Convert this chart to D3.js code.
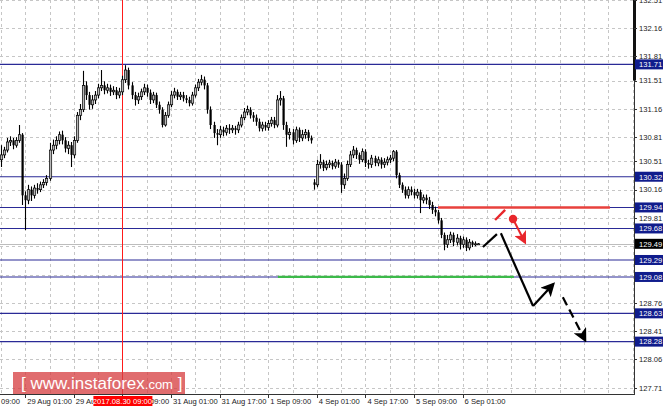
<!DOCTYPE html>
<html><head><meta charset="utf-8">
<script src="https://cdn.jsdelivr.net/npm/d3@7"></script>
<style>html,body{margin:0;padding:0;background:#fff;}svg{display:block;}</style>
</head><body>
<script>
// ---------- DATA ----------
const opens = [130.53,130.59,130.65,130.75,130.77,130.71,130.77,130.84,130.09,130.03,130.16,130.09,130.18,130.16,130.22,130.25,130.30,130.65,130.71,130.77,130.84,130.77,130.67,130.71,130.59,130.77,131.08,131.15,131.45,131.33,131.21,131.27,131.33,131.42,131.45,131.39,131.42,131.37,131.39,131.33,131.37,131.52,131.64,131.45,131.33,131.27,131.31,131.37,131.42,131.36,131.27,131.33,131.21,131.15,130.96,131.08,131.21,131.33,131.37,131.31,131.33,131.29,131.27,131.23,131.33,131.42,131.49,131.52,131.45,131.15,130.96,130.86,130.84,130.90,130.87,130.92,130.90,130.92,130.90,130.96,131.05,131.12,131.15,131.08,131.05,131.00,130.92,130.96,130.93,130.98,131.02,130.96,131.27,131.29,130.96,130.84,130.87,130.77,130.90,130.80,130.84,130.87,130.80,130.25,130.22,130.47,130.50,130.43,130.47,130.49,130.45,130.50,130.47,130.22,130.30,130.47,130.59,130.65,130.59,130.53,130.63,130.49,130.47,130.55,130.49,130.53,130.47,130.50,130.53,130.55,130.63,130.34,130.22,130.16,130.09,130.16,130.13,130.09,130.13,130.03,130.06,130.03,129.97,129.91,129.88,129.78,129.60,129.48,129.54,129.60,129.51,129.56,129.48,129.54,129.44,129.51,129.48,129.49];
const highs = [130.71,130.69,130.80,130.82,130.80,130.81,130.96,130.86,130.14,130.22,130.20,130.22,130.24,130.26,130.29,130.34,130.74,130.78,130.82,130.88,130.89,130.81,130.76,130.75,130.82,131.12,131.22,131.63,131.50,131.37,131.33,131.38,131.47,131.64,131.50,131.47,131.46,131.44,131.43,131.42,131.57,131.70,131.67,131.49,131.37,131.36,131.41,131.47,131.46,131.40,131.37,131.36,131.25,131.18,131.12,131.25,131.38,131.42,131.40,131.37,131.37,131.33,131.31,131.37,131.46,131.53,131.58,131.56,131.48,131.19,131.00,130.91,130.95,130.94,130.96,130.97,130.96,130.95,131.00,131.09,131.17,131.20,131.18,131.12,131.09,131.04,131.00,131.00,131.02,131.06,131.06,131.33,131.38,131.32,131.00,130.92,130.91,130.94,130.93,130.90,130.91,130.90,130.83,130.29,130.53,130.60,130.53,130.52,130.53,130.52,130.54,130.53,130.50,130.36,130.52,130.64,130.70,130.68,130.62,130.67,130.66,130.53,130.59,130.58,130.57,130.56,130.55,130.57,130.59,130.65,130.65,130.37,130.25,130.20,130.20,130.20,130.17,130.17,130.16,130.10,130.10,130.07,130.01,129.95,129.91,129.81,129.63,129.60,129.64,129.63,129.61,129.59,129.58,129.57,129.55,129.53,129.52,129.50];
const lows  = [130.44,130.55,130.62,130.70,130.66,130.68,130.74,129.97,129.66,129.98,130.02,130.05,130.11,130.13,130.18,130.21,130.27,130.60,130.66,130.72,130.72,130.62,130.60,130.44,130.55,130.74,131.02,131.12,131.27,131.15,131.16,131.22,131.29,131.38,131.34,131.35,131.32,131.33,131.28,131.29,131.33,131.48,131.40,131.28,131.20,131.22,131.27,131.33,131.31,131.22,131.23,131.17,131.10,130.93,130.94,131.05,131.18,131.29,131.27,131.27,131.25,131.23,131.19,131.20,131.30,131.38,131.45,131.40,131.10,130.91,130.80,130.71,130.80,130.82,130.83,130.85,130.86,130.84,130.86,130.93,131.02,131.08,131.04,131.00,130.95,130.88,130.88,130.89,130.89,130.94,130.92,130.93,131.20,130.90,130.69,130.78,130.72,130.74,130.75,130.76,130.79,130.76,130.73,130.16,130.19,130.42,130.39,130.40,130.43,130.41,130.42,130.43,130.12,130.17,130.27,130.44,130.55,130.54,130.48,130.50,130.44,130.42,130.43,130.45,130.45,130.42,130.43,130.46,130.49,130.51,130.30,130.18,130.12,130.05,130.05,130.09,130.05,130.05,129.87,129.99,129.98,129.92,129.86,129.83,129.74,129.56,129.41,129.44,129.50,129.46,129.47,129.42,129.44,129.40,129.41,129.45,129.46,129.48];
const closes= [130.59,130.65,130.75,130.77,130.71,130.77,130.84,130.09,130.03,130.16,130.09,130.18,130.16,130.22,130.25,130.30,130.65,130.71,130.77,130.84,130.77,130.67,130.71,130.59,130.77,131.08,131.15,131.45,131.33,131.21,131.27,131.33,131.42,131.45,131.39,131.42,131.37,131.39,131.33,131.37,131.52,131.64,131.45,131.33,131.27,131.31,131.37,131.42,131.36,131.27,131.33,131.21,131.15,130.96,131.08,131.21,131.33,131.37,131.31,131.33,131.29,131.27,131.23,131.33,131.42,131.49,131.52,131.45,131.15,130.96,130.86,130.84,130.90,130.87,130.92,130.90,130.92,130.90,130.96,131.05,131.12,131.15,131.08,131.05,131.00,130.92,130.96,130.93,130.98,131.02,130.96,131.27,131.29,130.96,130.84,130.87,130.77,130.90,130.80,130.84,130.87,130.80,130.77,130.22,130.47,130.50,130.43,130.47,130.49,130.45,130.50,130.47,130.22,130.30,130.47,130.59,130.65,130.59,130.53,130.63,130.49,130.47,130.55,130.49,130.53,130.47,130.50,130.53,130.55,130.63,130.34,130.22,130.16,130.09,130.16,130.13,130.09,130.13,130.03,130.06,130.03,129.97,129.91,129.88,129.78,129.60,129.48,129.54,129.60,129.51,129.56,129.48,129.54,129.44,129.51,129.48,129.49,129.49];

const priceTicks = [132.51,132.16,131.81,131.51,131.16,130.81,130.51,130.16,129.81,129.46,129.11,128.76,128.41,128.06,127.71];
const hiddenTickLabels = [129.46,129.11];
const levelLines = [131.71,130.32,129.94,129.68,129.29,129.08,128.63,128.28];
const currentPrice = 129.49;
const timeTickIdx = [-8,8,24,40,56,72,88,104,120,136,152];
const timeTickLabels = ["09:00","29 Aug 01:00","29 Aug 17:00","30 Aug 09:00","31 Aug 01:00","31 Aug 17:00","1 Sep 09:00","4 Sep 01:00","4 Sep 17:00","5 Sep 09:00","6 Sep 01:00"];
const markerIdx = 40, markerLabel = "2017.08.30 09:00";
const redLevel = {price:129.94, from:143.9, to:200.5};
const greenLevel = {price:129.08, from:91.2, to:168.9};
// projection path segments [idx, price]
const projSmall = [[158.7,129.45],[163.3,129.61]];
const projMain  = [[164.6,129.62],[175.2,128.72]];
const projUp    = [[175.2,128.72],[181.8,128.99]];
const projDash  = [[185.0,128.83],[192.3,128.30]];
const redDash   = [[162.7,129.785],[166.0,129.91]];
const redArrow  = [[168.6,129.797],[172.5,129.51]];

// ---------- LAYOUT ----------
const W=665,H=410, plotR=634, plotB=394;
const svg=d3.select("body").append("svg").attr("width",W).attr("height",H);
svg.append("rect").attr("width",W).attr("height",H).attr("fill","#fff");

const x=d3.scaleLinear().domain([0,200]).range([0.9,0.9+3.0375*200]);
const y=d3.scaleLinear().domain([132.16,127.71]).range([28,387.7]);

const defs=svg.append("defs");
defs.append("clipPath").attr("id","plot").append("rect").attr("x",0).attr("y",0).attr("width",plotR).attr("height",plotB);
function mk(id,color,size){
  defs.append("marker").attr("id",id).attr("viewBox","0 0 10 10").attr("refX",8).attr("refY",5)
   .attr("markerWidth",size).attr("markerHeight",size).attr("markerUnits","userSpaceOnUse").attr("orient","auto")
   .append("path").attr("d","M0,0 L10,5 L0,10 L2.5,5 Z").attr("fill",color);
}
mk("ab","#000",14); mk("ar","#e8262b",13);

const g=svg.append("g").attr("clip-path","url(#plot)");
const dash="3,3";
// grid
g.selectAll(".hg").data(priceTicks).join("line").attr("x1",0).attr("x2",plotR)
 .attr("y1",d=>Math.round(y(d))+0.5).attr("y2",d=>Math.round(y(d))+0.5)
 .attr("stroke","#c6c6c6").attr("stroke-dasharray",dash);
g.selectAll(".vg").data(d3.range(0,209,8)).join("line")
 .attr("x1",d=>Math.round(x(d))+0.5).attr("x2",d=>Math.round(x(d))+0.5).attr("y1",0).attr("y2",plotB)
 .attr("stroke","#c6c6c6").attr("stroke-dasharray",dash);

// current price line
g.append("line").attr("x1",0).attr("x2",plotR).attr("y1",Math.round(y(currentPrice))+0.5).attr("y2",Math.round(y(currentPrice))+0.5)
 .attr("stroke","#bdbdbd");

// level lines
g.selectAll(".lv").data(levelLines).join("line").attr("x1",0).attr("x2",plotR)
 .attr("y1",d=>y(d)).attr("y2",d=>y(d)).attr("stroke","#2a2a96").attr("stroke-width",1.1);

// red vertical marker
g.append("line").attr("x1",Math.round(x(markerIdx))+0.5).attr("x2",Math.round(x(markerIdx))+0.5).attr("y1",0).attr("y2",plotB)
 .attr("stroke","#ff1a1a").attr("stroke-width",1);

// red & green levels
g.append("line").attr("x1",x(redLevel.from)).attr("x2",x(redLevel.to)).attr("y1",y(redLevel.price)).attr("y2",y(redLevel.price))
 .attr("stroke","#e8413c").attr("stroke-width",2.5);
g.append("line").attr("x1",x(greenLevel.from)).attr("x2",x(greenLevel.to)).attr("y1",y(greenLevel.price)).attr("y2",y(greenLevel.price))
 .attr("stroke","#3cba4a").attr("stroke-width",2.2);

// candles
const bars=d3.range(opens.length).map(i=>({i,o:opens[i],h:highs[i],l:lows[i],c:closes[i]}));
const cg=g.append("g");
cg.selectAll(".wk").data(bars).join("line")
 .attr("x1",d=>Math.round(x(d.i))+0.5).attr("x2",d=>Math.round(x(d.i))+0.5)
 .attr("y1",d=>y(d.h)).attr("y2",d=>y(d.l)).attr("stroke","#000").attr("stroke-width",1.1);
cg.selectAll(".bd").data(bars).join("rect")
 .attr("x",d=>Math.round(x(d.i))-0.5).attr("width",2.2)
 .attr("y",d=>y(Math.max(d.o,d.c))).attr("height",d=>Math.max(1,Math.abs(y(d.o)-y(d.c))))
 .attr("fill",d=>d.c>=d.o?"#b8b8b8":"#000").attr("stroke","#000").attr("stroke-width",d=>d.c>=d.o?0.7:0);

// projections
const line=d3.line().x(d=>x(d[0])).y(d=>y(d[1]));
g.append("path").attr("d",line(projSmall)).attr("stroke","#000").attr("stroke-width",2.2).attr("fill","none");
g.append("path").attr("d",line(projMain)).attr("stroke","#000").attr("stroke-width",2.2).attr("fill","none");
g.append("path").attr("d",line(projUp)).attr("stroke","#000").attr("stroke-width",2.2).attr("fill","none").attr("marker-end","url(#ab)");
g.append("path").attr("d",line(projDash)).attr("stroke","#000").attr("stroke-width",2.2).attr("fill","none")
 .attr("stroke-dasharray","9,5").attr("marker-end","url(#ab)");
g.append("path").attr("d",line(redDash)).attr("stroke","#e8262b").attr("stroke-width",2.4).attr("fill","none");
g.append("path").attr("d",line(redArrow)).attr("stroke","#e8262b").attr("stroke-width",2).attr("fill","none").attr("marker-end","url(#ar)");
g.append("circle").attr("cx",x(redArrow[0][0])).attr("cy",y(redArrow[0][1])).attr("r",4.2).attr("fill","#e8262b");

// logo
const logo=svg.append("g");
logo.append("rect").attr("x",13).attr("y",372).attr("width",172).attr("height",22).attr("fill","rgba(214,62,64,0.76)");
const lt=logo.append("text").attr("x",21).attr("y",389).attr("fill","#fff").attr("font-family","Liberation Sans, Arial, sans-serif");
lt.append("tspan").attr("font-size",17).text("[ ");
lt.append("tspan").attr("font-size",17).text("www.instaforex");
lt.append("tspan").attr("font-size",13).text(".com");
lt.append("tspan").attr("font-size",17).text(" ]");

// axes lines
svg.append("line").attr("x1",plotR+0.5).attr("x2",plotR+0.5).attr("y1",0).attr("y2",plotB+0.5).attr("stroke","#333");
svg.append("line").attr("x1",0).attr("x2",plotR+1).attr("y1",plotB+0.5).attr("y2",plotB+0.5).attr("stroke","#333");
svg.append("line").attr("x1",plotR+0.5).attr("x2",plotR+0.5).attr("y1",0).attr("y2",y(131.51)).attr("stroke","#111").attr("stroke-width",3);

const font="Liberation Sans, Arial, sans-serif";
// right axis ticks
const rt=svg.append("g");
rt.selectAll("line").data(priceTicks).join("line").attr("x1",plotR).attr("x2",plotR+3)
 .attr("y1",d=>Math.round(y(d))+0.5).attr("y2",d=>Math.round(y(d))+0.5).attr("stroke","#333");
rt.selectAll("text").data(priceTicks.filter(d=>!hiddenTickLabels.includes(d))).join("text")
 .attr("x",639).attr("y",d=>y(d)+2.8).attr("font-size",7.6).attr("font-family",font).attr("fill","#222")
 .text(d=>d.toFixed(2));
// level boxes
const lb=svg.append("g").selectAll("g").data(levelLines).join("g");
lb.append("rect").attr("x",635).attr("y",d=>y(d)-5).attr("width",28).attr("height",10).attr("fill","#101c8c");
lb.append("text").attr("x",639).attr("y",d=>y(d)+2.8).attr("font-size",7.6).attr("font-family",font).attr("fill","#fff").text(d=>d.toFixed(2));
const cp=svg.append("g");
cp.append("rect").attr("x",635).attr("y",y(currentPrice)-5).attr("width",28).attr("height",10).attr("fill","#000");
cp.append("text").attr("x",639).attr("y",y(currentPrice)+2.8).attr("font-size",7.6).attr("font-family",font).attr("fill","#fff").text(currentPrice.toFixed(2));

// bottom axis
const bt=svg.append("g");
bt.selectAll("line").data(timeTickIdx).join("line").attr("x1",d=>Math.round(x(d))+0.5).attr("x2",d=>Math.round(x(d))+0.5)
 .attr("y1",plotB).attr("y2",plotB+4).attr("stroke","#333");
bt.selectAll("text").data(timeTickIdx).join("text").attr("x",(d,i)=>i===0?1:x(d)+2).attr("y",plotB+10)
 .attr("font-size",7.6).attr("font-family",font).attr("fill","#222").text((d,i)=>timeTickLabels[i]);
// marker label
const mx=x(markerIdx);
bt.append("rect").attr("x",mx-29).attr("y",plotB+2).attr("width",59).attr("height",10).attr("fill","#ff0000");
bt.append("text").attr("x",mx).attr("y",plotB+10).attr("text-anchor","middle").attr("font-size",7.6).attr("font-family",font)
 .attr("fill","#fff").text(markerLabel);
</script>
</body></html>
